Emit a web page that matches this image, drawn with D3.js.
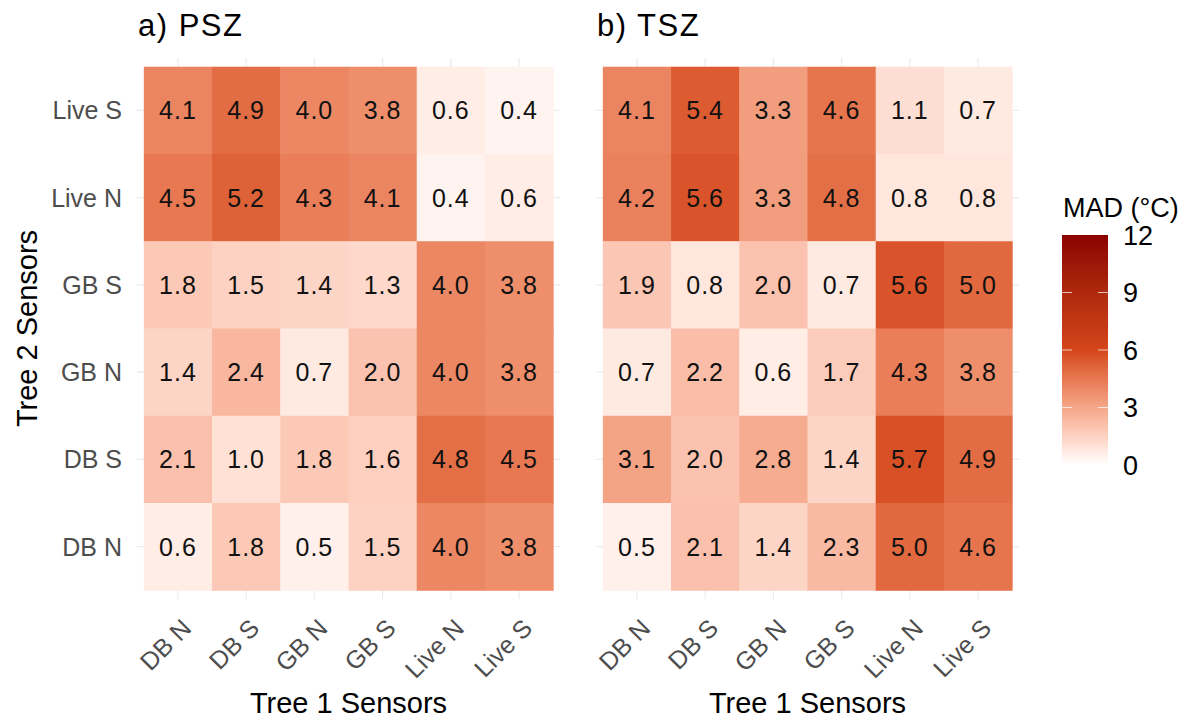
<!DOCTYPE html>
<html>
<head>
<meta charset="utf-8">
<script src="https://cdn.jsdelivr.net/npm/d3@7"></script>
<style>
  body { margin: 0; background: #fff; }
  text { font-family: "Liberation Sans", Arial, sans-serif; }
</style>
</head>
<body>
<div id="chart"></div>
<script>
// categories
var xCats = ["DB N", "DB S", "GB N", "GB S", "Live N", "Live S"];
var yCats = ["Live S", "Live N", "GB S", "GB N", "DB S", "DB N"]; // top to bottom
var panelTitles = ["a) PSZ", "b) TSZ"];
// values: rows follow yCats, columns follow xCats
var psz = [
  [4.1, 4.9, 4.0, 3.8, 0.6, 0.4],
  [4.5, 5.2, 4.3, 4.1, 0.4, 0.6],
  [1.8, 1.5, 1.4, 1.3, 4.0, 3.8],
  [1.4, 2.4, 0.7, 2.0, 4.0, 3.8],
  [2.1, 1.0, 1.8, 1.6, 4.8, 4.5],
  [0.6, 1.8, 0.5, 1.5, 4.0, 3.8]
];
var tsz = [
  [4.1, 5.4, 3.3, 4.6, 1.1, 0.7],
  [4.2, 5.6, 3.3, 4.8, 0.8, 0.8],
  [1.9, 0.8, 2.0, 0.7, 5.6, 5.0],
  [0.7, 2.2, 0.6, 1.7, 4.3, 3.8],
  [3.1, 2.0, 2.8, 1.4, 5.7, 4.9],
  [0.5, 2.1, 1.4, 2.3, 5.0, 4.6]
];
var legendTicks = [0, 3, 6, 9, 12];

var svgWidth = 1195, svgHeight = 721;
var svg = d3.select("#chart").append("svg")
  .attr("width", svgWidth)
  .attr("height", svgHeight);

// colour scale, white -> orange red -> dark red
var color = d3.scaleLinear()
  .domain([0, 6, 12])
  .range(["#ffffff", "#d4461a", "#8b0000"])
  .interpolate(d3.interpolateLab);

// panel geometry (tiles plus ggplot-like expansion)
var panelLefts = [137, 596];
var panelW = 423, panelTop = 58, panelH = 541;

var y = d3.scaleBand().domain(yCats)
  .range([panelTop, panelTop + panelH]).paddingOuter(0.1).paddingInner(0);

var datasets = [psz, tsz];

datasets.forEach(function(vals, p) {
  var x = d3.scaleBand().domain(xCats)
    .range([panelLefts[p], panelLefts[p] + panelW]).paddingOuter(0.1).paddingInner(0);

  var g = svg.append("g");

  // grid lines
  g.selectAll(".vg").data(xCats).enter().append("line")
    .attr("x1", d => x(d) + x.bandwidth() / 2)
    .attr("x2", d => x(d) + x.bandwidth() / 2)
    .attr("y1", panelTop).attr("y2", panelTop + panelH)
    .attr("stroke", "#ebebeb").attr("stroke-width", 1.2);
  g.selectAll(".hg").data(yCats).enter().append("line")
    .attr("y1", d => y(d) + y.bandwidth() / 2)
    .attr("y2", d => y(d) + y.bandwidth() / 2)
    .attr("x1", panelLefts[p]).attr("x2", panelLefts[p] + panelW)
    .attr("stroke", "#ebebeb").attr("stroke-width", 1.2);

  var cells = [];
  vals.forEach(function(row, i) {
    row.forEach(function(v, j) {
      cells.push({ row: yCats[i], col: xCats[j], value: v });
    });
  });

  g.selectAll("rect").data(cells).enter().append("rect")
    .attr("x", d => x(d.col))
    .attr("y", d => y(d.row))
    .attr("width", x.bandwidth() + 0.5)
    .attr("height", y.bandwidth() + 0.5)
    .attr("fill", d => color(d.value));

  g.selectAll(".val").data(cells).enter().append("text")
    .attr("x", d => x(d.col) + x.bandwidth() / 2)
    .attr("y", d => y(d.row) + y.bandwidth() / 2)
    .attr("dy", "0.36em")
    .attr("text-anchor", "middle")
    .style("font-size", "25px")
    .style("letter-spacing", "1px")
    .style("fill", "#111")
    .text(d => d.value.toFixed(1));

  // x tick labels, rotated
  g.selectAll(".xl").data(xCats).enter().append("text")
    .attr("transform", d => `translate(${x(d) + x.bandwidth() / 2 + 2}, ${617}) rotate(-45)`)
    .attr("text-anchor", "end")
    .attr("dy", "0.72em")
    .style("font-size", "25px")
    .style("fill", "#4d4d4d")
    .text(d => d);

  // y tick labels
  g.selectAll(".yl").data(yCats).enter().append("text")
    .attr("x", 122)
    .attr("y", d => y(d) + y.bandwidth() / 2)
    .attr("dy", "0.36em")
    .attr("text-anchor", "end")
    .style("font-size", "25px")
    .style("fill", "#4d4d4d")
    .text(d => (p === 0 ? d : ""));

  // panel title
  g.append("text")
    .attr("x", panelLefts[p] + 1)
    .attr("y", 36)
    .style("font-size", "31px")
    .style("letter-spacing", "1.5px")
    .style("fill", "#000")
    .text(panelTitles[p]);

  // x axis title
  g.append("text")
    .attr("x", panelLefts[p] + panelW / 2)
    .attr("y", 713)
    .attr("text-anchor", "middle")
    .style("font-size", "29px")
    .style("fill", "#000")
    .text("Tree 1 Sensors");
});

// y axis title
svg.append("text")
  .attr("transform", `translate(37, ${panelTop + panelH / 2}) rotate(-90)`)
  .attr("text-anchor", "middle")
  .style("font-size", "29px")
  .style("fill", "#000")
  .text("Tree 2 Sensors");

// legend colour bar
var legX = 1062, legW = 46;
var ly = d3.scaleLinear().domain([0, 12]).range([465, 235]);
var defs = svg.append("defs");
var grad = defs.append("linearGradient").attr("id", "madgrad")
  .attr("x1", "0").attr("y1", "1").attr("x2", "0").attr("y2", "0");
d3.range(0, 12.01, 0.5).forEach(function(v) {
  grad.append("stop").attr("offset", v / 12).attr("stop-color", color(v));
});
svg.append("rect")
  .attr("x", legX).attr("y", ly(12))
  .attr("width", legW).attr("height", ly(0) - ly(12))
  .attr("fill", "url(#madgrad)");

legendTicks.forEach(function(t) {
  if (t > 0 && t < 12) {
    svg.append("line").attr("x1", legX).attr("x2", legX + 10)
      .attr("y1", ly(t)).attr("y2", ly(t))
      .attr("stroke", "#fff").attr("stroke-opacity", 0.7).attr("stroke-width", 1);
    svg.append("line").attr("x1", legX + legW - 10).attr("x2", legX + legW)
      .attr("y1", ly(t)).attr("y2", ly(t))
      .attr("stroke", "#fff").attr("stroke-opacity", 0.7).attr("stroke-width", 1);
  }
  svg.append("text")
    .attr("x", 1123)
    .attr("y", ly(t))
    .attr("dy", "0.36em")
    .style("font-size", "27px")
    .style("fill", "#000")
    .text(t);
});

svg.append("text")
  .attr("x", 1063)
  .attr("y", 217)
  .style("font-size", "27px")
  .style("fill", "#000")
  .text("MAD (°C)");
</script>
</body>
</html>
